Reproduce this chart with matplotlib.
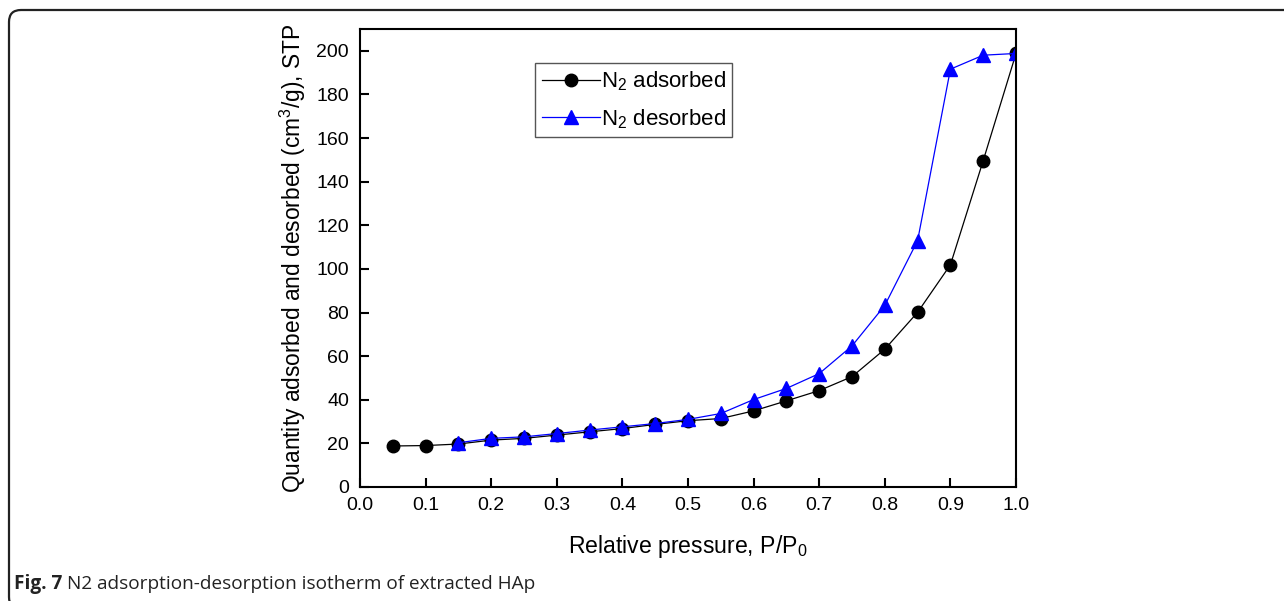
import matplotlib
matplotlib.use("Agg")
import matplotlib.pyplot as plt
from matplotlib.patches import FancyBboxPatch

plt.rcParams['font.family'] = ['Liberation Sans', 'DejaVu Sans']
plt.rcParams['mathtext.default'] = 'regular'

# N2 isotherm data (P/P0 vs quantity, cm3/g STP)
p_ads = [0.05, 0.10, 0.15, 0.20, 0.25, 0.30, 0.35, 0.40, 0.45, 0.50,
         0.55, 0.60, 0.65, 0.70, 0.75, 0.80, 0.85, 0.90, 0.95, 1.00]
q_ads = [18.8, 19.0, 19.7, 21.5, 22.3, 23.8, 25.3, 26.8, 28.7, 30.4,
         31.4, 34.9, 39.5, 44.2, 50.6, 63.2, 80.1, 101.9, 149.7, 198.8]
p_des = [0.15, 0.20, 0.25, 0.30, 0.35, 0.40, 0.45, 0.50,
         0.55, 0.60, 0.65, 0.70, 0.75, 0.80, 0.85, 0.90, 0.95, 1.00]
q_des = [20.3, 22.3, 23.0, 24.5, 26.1, 27.6, 29.1, 31.0,
         33.7, 40.1, 45.2, 52.0, 64.7, 83.3, 113.0, 191.6, 198.0, 198.8]

fig = plt.figure(figsize=(12.84, 6.01), dpi=100)
ax = fig.add_axes([0.2804, 0.1897, 0.5109, 0.762])

ax.plot(p_ads, q_ads, color='black', lw=0.9, marker='o', ms=9,
        label='N$_2$ adsorbed')
ax.plot(p_des, q_des, color='#0000ff', lw=0.9, marker='^', ms=10,
        label='N$_2$ desorbed')

ax.set_xlim(0, 1.0)
ax.set_ylim(0, 210)
ax.set_xticks([i / 10 for i in range(11)])
ax.set_yticks(range(0, 201, 20))
ax.tick_params(direction='in', length=6.5, width=1.5, labelsize=14,
               top=False, right=False)
ax.tick_params(axis='y', pad=8)
ax.tick_params(axis='x', pad=7)
for s in ax.spines.values():
    s.set_linewidth(1.5)

ax.set_xlabel('Relative pressure, P/P$_0$', fontsize=16.6, labelpad=14)
ax.set_ylabel('Quantity adsorbed and desorbed (cm$^3$/g), STP',
              fontsize=16.4, labelpad=6)

leg = ax.legend(loc='upper left', bbox_to_anchor=(0.267, 0.926),
                borderaxespad=0, fontsize=16, handlelength=2.6,
                handletextpad=0.05, fancybox=False, framealpha=1,
                edgecolor='#555555', labelspacing=0.62, borderpad=0.3)
leg.get_frame().set_linewidth(1.0)

# journal-style frame around the figure
frame = FancyBboxPatch((0.09, -0.08), 13.5, 5.99,
                       boxstyle='round,pad=0,rounding_size=0.12',
                       transform=fig.dpi_scale_trans, fill=False,
                       edgecolor='#222222', lw=1.6, clip_on=False)
fig.patches.append(frame)

# caption
renderer = fig.canvas.get_renderer()
t1 = fig.text(14 / 1284, 1 - 584 / 601, 'Fig. 7', fontsize=13.7,
              fontweight='bold', family='Open Sans', va='center',
              color='#222222')
bb = t1.get_window_extent(renderer)
fig.text((bb.x1 + 5) / 1284, 1 - 584 / 601,
         'N2 adsorption-desorption isotherm of extracted HAp', fontsize=13.7,
         family='Open Sans', va='center', color='#222222')

fig.savefig('out.png', dpi=100)
